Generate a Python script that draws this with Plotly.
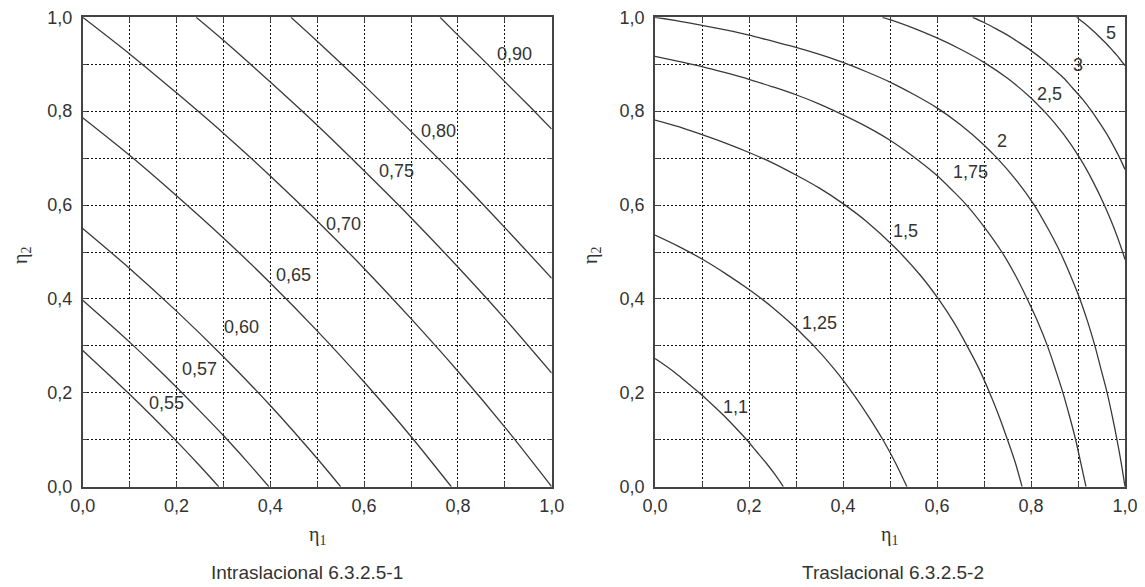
import plotly.graph_objects as go

# ---------------- data ----------------
# Left chart: Intraslacional (non-sway) curves
L055_x = [0, 0.05, 0.1, 0.15, 0.2, 0.25, 0.29]
L055_y = [0.29, 0.244, 0.197, 0.148, 0.097, 0.044, 0]
L057_x = [0, 0.05, 0.1, 0.15, 0.2, 0.25, 0.3, 0.35, 0.397]
L057_y = [0.397, 0.353, 0.308, 0.261, 0.212, 0.161, 0.109, 0.054, 0]
L060_x = [0, 0.1, 0.2, 0.3, 0.4, 0.5, 0.55]
L060_y = [0.55, 0.465, 0.374, 0.277, 0.173, 0.06, 0]
L065_x = [0, 0.1, 0.2, 0.3, 0.4, 0.5, 0.6, 0.7, 0.786]
L065_y = [0.786, 0.706, 0.62, 0.53, 0.434, 0.332, 0.223, 0.107, 0]
L070_x = [0, 0.1, 0.2, 0.3, 0.4, 0.5, 0.6, 0.7, 0.8, 0.9, 1.0]
L070_y = [1.0, 0.922, 0.839, 0.753, 0.662, 0.566, 0.465, 0.358, 0.246, 0.127, 0]
L075_x = [0.242, 0.3, 0.4, 0.5, 0.6, 0.7, 0.8, 0.9, 1.0]
L075_y = [1.0, 0.951, 0.862, 0.77, 0.673, 0.573, 0.468, 0.358, 0.242]
L080_x = [0.444, 0.5, 0.6, 0.7, 0.8, 0.9, 1.0]
L080_y = [1.0, 0.949, 0.855, 0.757, 0.657, 0.552, 0.444]
L090_x = [0.762, 0.8, 0.85, 0.9, 0.95, 1.0]
L090_y = [1.0, 0.962, 0.913, 0.863, 0.813, 0.762]

left_curves = [(L055_x, L055_y), (L057_x, L057_y), (L060_x, L060_y), (L065_x, L065_y),
               (L070_x, L070_y), (L075_x, L075_y), (L080_x, L080_y), (L090_x, L090_y)]
left_labels = ["0,55", "0,57", "0,60", "0,65", "0,70", "0,75", "0,80", "0,90"]
left_label_x = [0.179, 0.248, 0.339, 0.449, 0.557, 0.669, 0.758, 0.92]
left_label_y = [0.178, 0.251, 0.34, 0.451, 0.56, 0.672, 0.758, 0.922]

# Right chart: Traslacional (sway) curves
R110_x = [0, 0.025, 0.05, 0.075, 0.1, 0.125, 0.149, 0.172, 0.195, 0.216, 0.237, 0.256, 0.273]
R110_y = [0.273, 0.256, 0.237, 0.216, 0.195, 0.172, 0.149, 0.125, 0.1, 0.075, 0.05, 0.025, 0]
R125_x = [0, 0.05, 0.1, 0.15, 0.2, 0.25, 0.3, 0.319, 0.338, 0.382, 0.42, 0.454, 0.485, 0.512, 0.536]
R125_y = [0.536, 0.512, 0.485, 0.454, 0.42, 0.382, 0.338, 0.319, 0.3, 0.25, 0.2, 0.15, 0.1, 0.05, 0]
R150_x = [0, 0.05, 0.1, 0.15, 0.2, 0.25, 0.3, 0.35, 0.4, 0.45, 0.51, 0.565, 0.603, 0.636, 0.664,
          0.69, 0.712, 0.732, 0.75, 0.767, 0.781]
R150_y = [0.781, 0.767, 0.75, 0.732, 0.712, 0.69, 0.664, 0.636, 0.603, 0.565, 0.51, 0.45, 0.4, 0.35, 0.3,
          0.25, 0.2, 0.15, 0.1, 0.05, 0]
R175_x = [0, 0.05, 0.1, 0.15, 0.2, 0.25, 0.3, 0.35, 0.4, 0.45, 0.5, 0.55, 0.6, 0.632,
          0.663, 0.703, 0.738, 0.767, 0.792, 0.815, 0.835, 0.852, 0.868, 0.882, 0.895, 0.906, 0.917]
R175_y = [0.917, 0.906, 0.895, 0.882, 0.868, 0.852, 0.835, 0.815, 0.792, 0.767, 0.738, 0.703, 0.663, 0.632,
          0.6, 0.55, 0.5, 0.45, 0.4, 0.35, 0.3, 0.25, 0.2, 0.15, 0.1, 0.05, 0]
R200_x = [0, 0.05, 0.1, 0.15, 0.2, 0.25, 0.3, 0.35, 0.4, 0.45, 0.5, 0.55, 0.6, 0.65, 0.7, 0.714,
          0.728, 0.771, 0.807, 0.836, 0.862, 0.884, 0.904, 0.921, 0.936, 0.949, 0.962, 0.973, 0.983, 0.992, 1.0]
R200_y = [1.0, 0.992, 0.983, 0.973, 0.962, 0.949, 0.936, 0.921, 0.904, 0.884, 0.862, 0.836, 0.807, 0.771, 0.728, 0.714,
          0.7, 0.65, 0.6, 0.55, 0.5, 0.45, 0.4, 0.35, 0.3, 0.25, 0.2, 0.15, 0.1, 0.05, 0]
R250_x = [0.484, 0.5, 0.55, 0.6, 0.65, 0.7, 0.75, 0.8, 0.814, 0.828, 0.87, 0.904, 0.932, 0.956, 0.977, 0.995, 1.0]
R250_y = [1.0, 0.995, 0.977, 0.956, 0.932, 0.904, 0.87, 0.828, 0.814, 0.8, 0.75, 0.7, 0.65, 0.6, 0.55, 0.5, 0.484]
R300_x = [0.676, 0.7, 0.725, 0.75, 0.775, 0.8, 0.825, 0.85, 0.87, 0.888, 0.91, 0.929, 0.946, 0.962, 0.976, 0.989, 1.0]
R300_y = [1.0, 0.989, 0.976, 0.962, 0.946, 0.929, 0.91, 0.888, 0.87, 0.85, 0.825, 0.8, 0.775, 0.75, 0.725, 0.7, 0.676]
R500_x = [0.897, 0.91, 0.92, 0.93, 0.94, 0.952, 0.964, 0.973, 0.982, 0.99, 1.0]
R500_y = [1.0, 0.99, 0.982, 0.973, 0.964, 0.952, 0.94, 0.93, 0.92, 0.91, 0.897]

right_curves = [(R110_x, R110_y), (R125_x, R125_y), (R150_x, R150_y), (R175_x, R175_y),
                (R200_x, R200_y), (R250_x, R250_y), (R300_x, R300_y), (R500_x, R500_y)]
right_labels = ["1,1", "1,25", "1,5", "1,75", "2", "2,5", "3", "5"]
right_label_x = [0.171, 0.351, 0.532, 0.672, 0.738, 0.84, 0.9, 0.971]
right_label_y = [0.169, 0.348, 0.545, 0.671, 0.737, 0.836, 0.898, 0.967]

major_vals = [0, 0.2, 0.4, 0.6, 0.8, 1.0]
major_text = ["0,0", "0,2", "0,4", "0,6", "0,8", "1,0"]
minor_vals = [0.1, 0.3, 0.5, 0.7, 0.9]

captions = ["Intraslacional 6.3.2.5-1", "Traslacional 6.3.2.5-2"]

# ---------------- figure ----------------
# The page body has an 8px margin; the figure is sized/offset to fit the 1145x587 window.
OFF = 8
W, H = 1145 - OFF, 587 - OFF
FONT = "Liberation Sans, Arial, sans-serif"
SERIF = "Liberation Serif, DejaVu Serif, serif"
LINE = "#3a3a3a"


def px(x):
    return (x - OFF) / W


def py(y):
    return (H - (y - OFF)) / H


fig = go.Figure()

for (xs, ys) in left_curves:
    fig.add_trace(go.Scatter(x=xs, y=ys, mode="lines", xaxis="x", yaxis="y",
                             line=dict(color=LINE, width=1.3, shape="spline", smoothing=0.8),
                             hoverinfo="skip", showlegend=False))
for (xs, ys) in right_curves:
    fig.add_trace(go.Scatter(x=xs, y=ys, mode="lines", xaxis="x2", yaxis="y2",
                             line=dict(color=LINE, width=1.3, shape="spline", smoothing=0.8),
                             hoverinfo="skip", showlegend=False))

y_dom = [py(486.7), py(17.3)]
left_dom = [px(82.7), px(551.7)]
right_dom = [px(655.0), px(1125.0)]

GRID = dict(showgrid=True, gridcolor="#111", gridwidth=1, griddash="2px,2px")
common = dict(range=[0, 1], tickmode="array", tickvals=major_vals, ticktext=major_text,
              showline=True, linecolor="#444", linewidth=1.5, mirror="ticks",
              ticks="inside", ticklen=5, tickcolor="#444", tickwidth=1,
              tickfont=dict(family=FONT, size=18, color="#333"),
              ticklabeloverflow="allow",
              minor=dict(tickmode="array", tickvals=minor_vals, ticks="inside", ticklen=5,
                         tickcolor="#444", tickwidth=1, **GRID),
              zeroline=False, fixedrange=True, automargin=False, **GRID)

fig.update_layout(
    width=W, height=H, autosize=False,
    margin=dict(l=0, r=0, t=0, b=0, pad=0),
    paper_bgcolor="white", plot_bgcolor="white",
    showlegend=False,
    xaxis=dict(domain=left_dom, anchor="y", ticklabelstandoff=2, **common),
    yaxis=dict(domain=y_dom, anchor="x", ticklabelstandoff=5, **common),
    xaxis2=dict(domain=right_dom, anchor="y2", ticklabelstandoff=2, **common),
    yaxis2=dict(domain=y_dom, anchor="x2", ticklabelstandoff=5, **common),
)

ann = []
for t, x, y in zip(left_labels, left_label_x, left_label_y):
    ann.append(dict(text=t, x=x, y=y, xref="x", yref="y", showarrow=False,
                    xanchor="center", yanchor="middle",
                    font=dict(family=FONT, size=18, color="#333")))
for t, x, y in zip(right_labels, right_label_x, right_label_y):
    ann.append(dict(text=t, x=x, y=y, xref="x2", yref="y2", showarrow=False,
                    xanchor="center", yanchor="middle",
                    font=dict(family=FONT, size=18, color="#333")))

for cx in [(82.7 + 551.7) / 2, (655 + 1125) / 2]:
    ann.append(dict(text="η<sub>1</sub>", x=px(cx), y=py(535), xref="paper", yref="paper",
                    showarrow=False, xanchor="center", yanchor="middle",
                    font=dict(family=SERIF, size=20, color="#333")))
for cx in [21, 591]:
    ann.append(dict(text="η<sub>2</sub>", x=px(cx), y=py(256), xref="paper", yref="paper",
                    showarrow=False, textangle=-90, xanchor="center", yanchor="middle",
                    font=dict(family=SERIF, size=20, color="#333")))
for t, cx in zip(captions, [307, 893]):
    ann.append(dict(text=t, x=px(cx), y=py(572), xref="paper", yref="paper",
                    showarrow=False, xanchor="center", yanchor="middle",
                    font=dict(family=FONT, size=19, color="#333")))

fig.update_layout(annotations=ann)
fig.write_html("out.html")
